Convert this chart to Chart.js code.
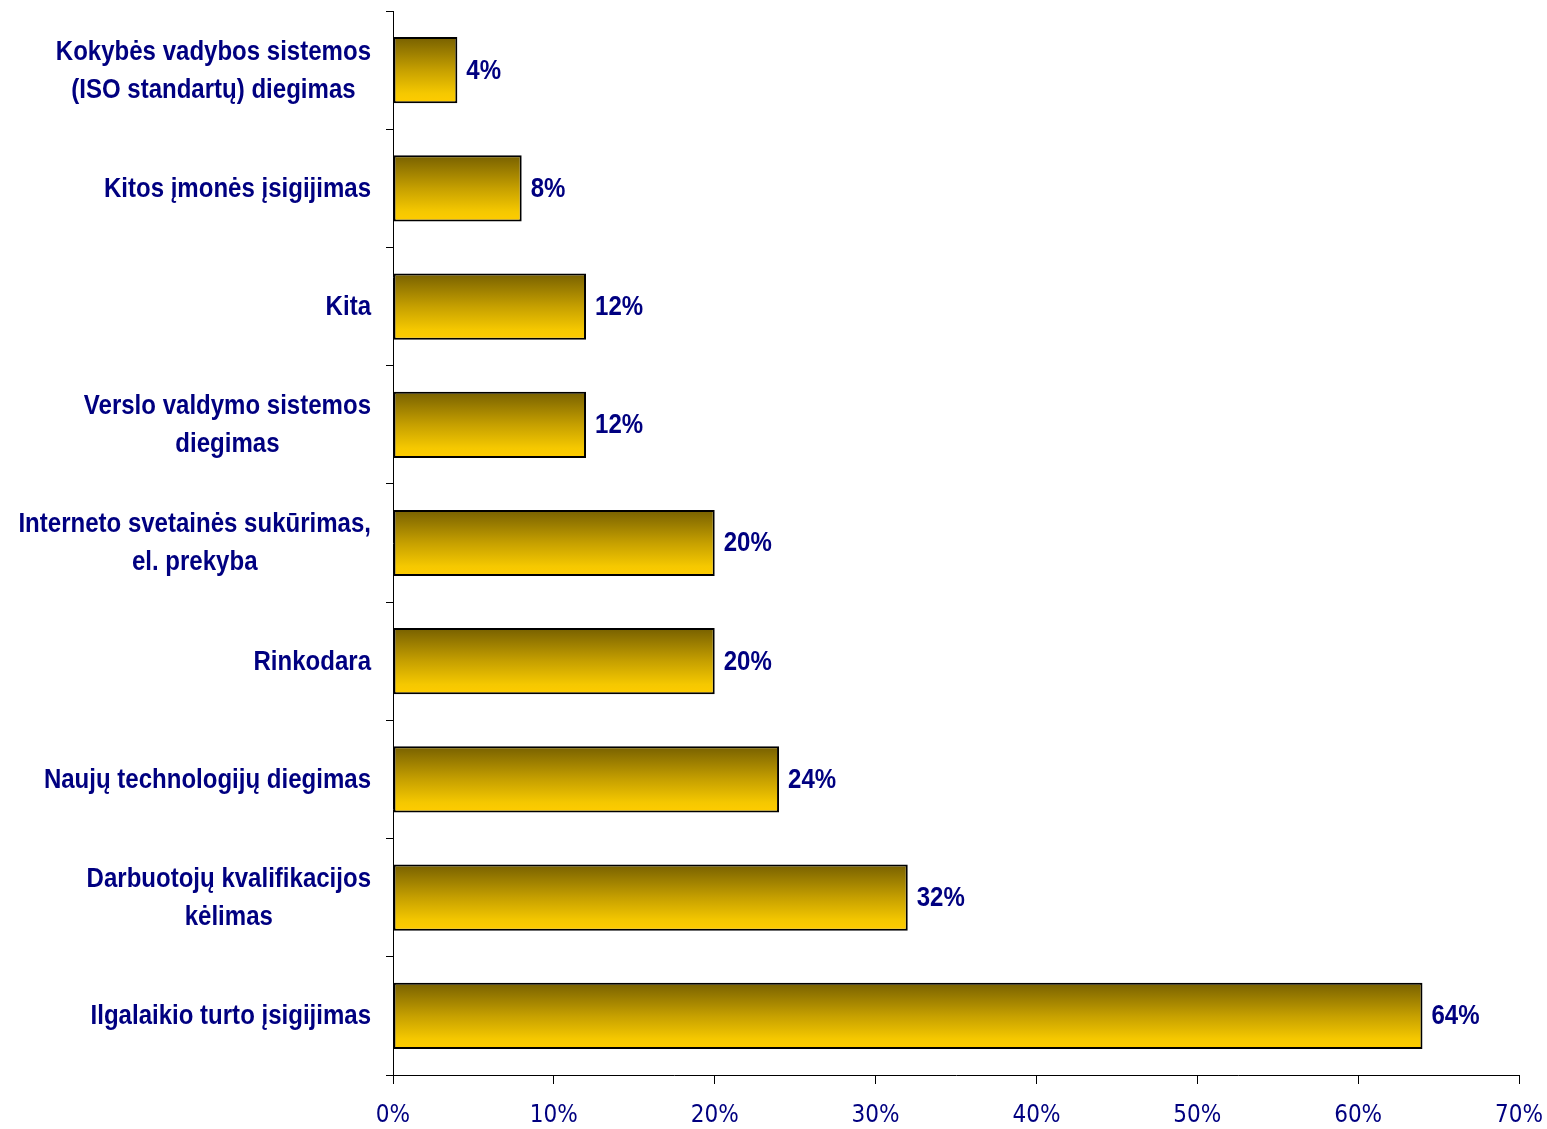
<!DOCTYPE html>
<html>
<head>
<meta charset="utf-8">
<script src="https://cdn.jsdelivr.net/npm/chart.js@4/dist/chart.umd.min.js"></script>
<style>
html,body{margin:0;padding:0;background:#fff;}
canvas{display:block;}
</style>
</head>
<body>
<canvas id="c" width="1547" height="1129"></canvas>
<script>
const categories = [
  ["Kokybės vadybos sistemos", "(ISO standartų) diegimas"],
  "Kitos įmonės įsigijimas",
  "Kita",
  ["Verslo valdymo sistemos", "diegimas"],
  ["Interneto svetainės sukūrimas,", "el. prekyba"],
  "Rinkodara",
  "Naujų technologijų diegimas",
  ["Darbuotojų kvalifikacijos", "kėlimas"],
  "Ilgalaikio turto įsigijimas"
];
const values = [4, 8, 12, 12, 20, 20, 24, 32, 64];
const xTicks = [0, 10, 20, 30, 40, 50, 60, 70];

const SANS = "'Liberation Sans', Arial, sans-serif";
const NARROW_SCALE = 0.89;
const NAVY = '#000080';

const gradientPlugin = {
  id: 'grad',
  beforeDatasetsDraw(chart) {
    const ctx = chart.ctx;
    chart.getDatasetMeta(0).data.forEach(bar => {
      const p = bar.getProps(['y', 'height'], true);
      const top = p.y - p.height / 2, bot = p.y + p.height / 2;
      const g = ctx.createLinearGradient(0, top, 0, bot);
      g.addColorStop(0, '#776000');
      g.addColorStop(0.5, '#C6A000');
      g.addColorStop(0.85, '#F5C800');
      g.addColorStop(1, '#FFCC00');
      bar.options = Object.assign({}, bar.options, { backgroundColor: g });
    });
  }
};

function narrowText(ctx, text, x, y, align) {
  ctx.save();
  ctx.translate(x, y);
  ctx.scale(NARROW_SCALE, 1);
  ctx.textAlign = align;
  ctx.fillText(text, 0, 0);
  ctx.restore();
}

const labelPlugin = {
  id: 'vals',
  afterDatasetsDraw(chart) {
    const ctx = chart.ctx;
    ctx.save();
    ctx.fillStyle = NAVY;
    ctx.font = "bold 27px " + SANS;
    ctx.textBaseline = 'middle';
    chart.getDatasetMeta(0).data.forEach((bar, i) => {
      const p = bar.getProps(['x', 'y'], true);
      narrowText(ctx, values[i] + '%', p.x + 9, p.y + 1, 'left');
    });
    // category labels: block right-aligned to the axis, lines centred within the block
    const ys = chart.scales.y;
    const right = ys.right - 22;
    categories.forEach((cat, i) => {
      const lines = Array.isArray(cat) ? cat : [cat];
      const py = ys.getPixelForValue(i);
      let widest = 0;
      lines.forEach(l => { widest = Math.max(widest, ctx.measureText(l).width * NARROW_SCALE); });
      const cx = right - widest / 2;
      lines.forEach((l, k) => {
        narrowText(ctx, l, cx, py + 1 + (k - (lines.length - 1) / 2) * 38, 'center');
      });
    });
    ctx.restore();
  }
};

new Chart(document.getElementById('c'), {
  type: 'bar',
  data: {
    labels: categories,
    datasets: [{
      data: values,
      backgroundColor: '#D4A800',
      borderColor: '#000000',
      borderWidth: 2,
      borderSkipped: false,
      categoryPercentage: 1,
      barPercentage: 0.56
    }]
  },
  options: {
    indexAxis: 'y',
    responsive: false,
    animation: false,
    devicePixelRatio: 1,
    layout: { padding: { top: 11, right: 28, left: 0, bottom: 0 } },
    plugins: { legend: { display: false }, tooltip: { enabled: false } },
    scales: {
      x: {
        min: 0, max: 70,
        afterBuildTicks: s => { s.ticks = xTicks.map(v => ({ value: v })); },
        afterFit: s => { s.height = 54; s.paddingLeft = 0; s.paddingRight = 0; },
        border: { display: true, color: '#000', width: 1 },
        grid: { drawOnChartArea: false, drawTicks: true, tickLength: 9, color: '#000' },
        ticks: {
          color: NAVY,
          font: { family: "'DejaVu Sans Condensed', " + SANS, size: 24 },
          padding: 17,
          maxRotation: 0,
          callback: v => v + '%'
        }
      },
      y: {
        offset: true,
        afterFit: s => { s.width = 393; s.paddingTop = 0; s.paddingBottom = 0; },
        border: { display: true, color: '#000', width: 1 },
        grid: { offset: true, drawOnChartArea: false, drawTicks: true, tickLength: 7, color: '#000' },
        ticks: {
          color: 'rgba(0,0,0,0)',
          font: { family: SANS, size: 14 },
          padding: 15,
          autoSkip: false
        }
      }
    }
  },
  plugins: [gradientPlugin, labelPlugin]
});
</script>
</body>
</html>
